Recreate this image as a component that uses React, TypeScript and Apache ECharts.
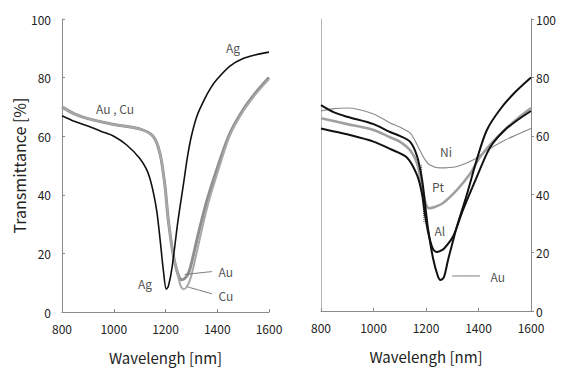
import React, { useEffect, useRef } from "react";
import * as echarts from "echarts";

// ---- Left panel (Ag, Au, Cu) ----
const leftAgX = [800, 850, 900, 950, 1000, 1050, 1100, 1125, 1140, 1155, 1167, 1180, 1192, 1203, 1211, 1225, 1248, 1270, 1285, 1300, 1322, 1350, 1375, 1400, 1450, 1500, 1550, 1600];
const leftAgY = [67, 65, 63.5, 61.7, 60, 57, 52.5, 49, 45.5, 40, 34, 24, 14, 7.8, 8.8, 15, 31, 44, 53, 60, 67, 72.5, 76.5, 79.5, 84, 86.5, 87.8, 88.7];

const leftAuX = [800, 850, 900, 1000, 1100, 1152, 1179, 1198, 1210, 1229, 1248, 1264, 1280, 1294, 1325, 1360, 1411, 1449, 1500, 1550, 1600];
const leftAuY = [70, 67.5, 66, 64, 62.5, 60, 54, 43, 32, 20, 13, 11, 12, 14.5, 26, 38, 52, 61, 69, 75, 80];

const leftCuX = [800, 850, 900, 1000, 1100, 1152, 1179, 1198, 1210, 1229, 1248, 1258, 1270, 1285, 1300, 1330, 1365, 1415, 1450, 1500, 1550, 1600];
const leftCuY = [70, 67.5, 66, 64, 62.5, 60, 54, 43, 32, 20, 12.5, 9, 7.8, 9, 12.5, 24, 37, 51.5, 60.5, 68.5, 74.5, 79.5];

// ---- Right panel (Au, Al, Pt, Ni) ----
const rightAuX = [800, 850, 900, 1000, 1063, 1100, 1139, 1166, 1185, 1196, 1208, 1227, 1245, 1255, 1268, 1284, 1300, 1318, 1356, 1394, 1432, 1482, 1540, 1600];
const rightAuY = [70.5, 68, 66.5, 64, 61.3, 60, 58, 53, 45, 37, 28, 18, 12, 10.6, 11.5, 17.5, 23, 29, 40, 52, 62, 69, 75, 80];

const rightAlX = [800, 850, 900, 1000, 1063, 1128, 1166, 1185, 1196, 1208, 1225, 1240, 1255, 1270, 1303, 1341, 1394, 1432, 1455, 1500, 1550, 1600];
const rightAlY = [62.5, 61.5, 60.5, 58, 55.5, 52.5, 46.5, 40, 33, 27, 21.5, 20.2, 20.6, 21.5, 25.5, 34.6, 46, 54, 57.5, 62, 65.5, 68.5];

const rightPtX = [800, 900, 1000, 1063, 1100, 1140, 1166, 1185, 1200, 1212, 1230, 1265, 1318, 1368, 1406, 1450, 1500, 1550, 1600];
const rightPtY = [66, 64, 62, 59.5, 58, 55, 50.6, 42.5, 36.5, 35.2, 35.5, 37, 41.5, 47, 52.7, 57.5, 62, 66, 69.5];

const rightNiX = [800, 850, 900, 1000, 1063, 1100, 1139, 1160, 1177, 1195, 1215, 1253, 1318, 1379, 1432, 1500, 1550, 1600];
const rightNiY = [68.5, 69.3, 69.5, 67.5, 64.4, 63, 61, 58, 55, 52, 50, 49, 49.5, 51.7, 55, 58.5, 60.5, 62.5];

const rightDotX = [1182, 1187, 1193];
const rightDotY = [50, 40, 30];

// ---- Axes ----
const xTicks = [800, 1000, 1200, 1400, 1600];
const yTicks = [0, 20, 40, 60, 80, 100];

// ---- Annotations ----
const leftLabels = [
  { name: "Ag", x: 1461, y: 90.4, align: "center" },
  { name: "Au , Cu", x: 1005, y: 69.6, align: "center" },
  { name: "Ag", x: 1121, y: 9.6, align: "center" },
  { name: "Au", x: 1405, y: 13.7, align: "left" },
  { name: "Cu", x: 1405, y: 5.6, align: "left" },
];
const leftAuLeaderX = [1274, 1380];
const leftAuLeaderY = [12.8, 13.8];
const leftCuLeaderX = [1284, 1380];
const leftCuLeaderY = [8.6, 6.2];

const rightLabels = [
  { name: "Ni", x: 1276, y: 54.5, align: "center" },
  { name: "Pt", x: 1246, y: 42.5, align: "center" },
  { name: "Al", x: 1253, y: 27.7, align: "center" },
  { name: "Au", x: 1446, y: 11.8, align: "left" },
];
const rightAuLeaderX = [1299, 1406];
const rightAuLeaderY = [12, 12];

const zip = (xs: number[], ys: number[]) => xs.map((x, i) => [x, ys[i]]);

const FONT = "'Noto Sans CJK JP', 'Noto Sans', sans-serif";
const AXIS_COLOR = "#8a8a8a";
const TEXT_COLOR = "#222";

export default function App() {
  const ref = useRef<HTMLDivElement>(null);
  useEffect(() => {
    if (!ref.current) return;
    const chart = echarts.init(ref.current, null, { renderer: "svg" });

    const xAxisBase = (gridIndex: number) => ({
      type: "value",
      gridIndex,
      min: 800,
      max: 1600,
      interval: 200,
      name: "Wavelengh [nm]",
      nameLocation: "middle",
      nameGap: 38,
      nameTextStyle: { fontSize: 15, color: TEXT_COLOR, fontFamily: FONT },
      axisLine: { show: true, lineStyle: { color: AXIS_COLOR, width: 1 } },
      axisTick: { show: true, inside: true, length: 3, lineStyle: { color: AXIS_COLOR } },
      axisLabel: {
        fontSize: 12,
        color: TEXT_COLOR,
        fontFamily: FONT,
        margin: 10,
        customValues: xTicks,
        formatter: (v: number) => String(v),
      },
      splitLine: { show: false },
    });

    const lineSeries = (
      name: string,
      data: number[][],
      idx: number,
      color: string,
      width: number,
      type: string = "solid",
      z = 3
    ) => ({
      type: "line",
      name,
      xAxisIndex: idx,
      yAxisIndex: idx,
      data,
      showSymbol: false,
      symbol: "none",
      smooth: 0.3,
      lineStyle: { color, width, type },
      z,
    });

    const labelSeries = (items: any[], idx: number) => ({
      type: "scatter",
      xAxisIndex: idx,
      yAxisIndex: idx,
      symbolSize: 0,
      data: items.map((it) => ({
        name: it.name,
        value: [it.x, it.y],
        label: { align: it.align },
      })),
      label: {
        show: true,
        position: "inside",
        formatter: "{b}",
        fontSize: 12,
        color: TEXT_COLOR,
        fontFamily: FONT,
        verticalAlign: "middle",
      },
      z: 5,
    });

    chart.setOption({
      animation: false,
      backgroundColor: "#ffffff",
      grid: [
        { left: 62, top: 19, width: 207, height: 293 },
        { left: 321, top: 19, width: 210, height: 292 },
      ],
      xAxis: [xAxisBase(0), xAxisBase(1)],
      yAxis: [
        {
          type: "value",
          gridIndex: 0,
          min: 0,
          max: 100,
          interval: 20,
          name: "Transmittance [%]",
          nameLocation: "middle",
          nameGap: 34,
          nameTextStyle: { fontSize: 16, color: TEXT_COLOR, fontFamily: FONT },
          axisLine: { show: true, lineStyle: { color: AXIS_COLOR, width: 1 } },
          axisTick: { show: true, inside: true, length: 3, lineStyle: { color: AXIS_COLOR } },
          axisLabel: { fontSize: 12, color: TEXT_COLOR, fontFamily: FONT, margin: 11, customValues: yTicks },
          splitLine: { show: false },
        },
        {
          type: "value",
          gridIndex: 1,
          position: "right",
          min: 0,
          max: 100,
          interval: 20,
          axisLine: { show: true, lineStyle: { color: AXIS_COLOR, width: 1 } },
          axisTick: { show: true, inside: false, length: 3, lineStyle: { color: AXIS_COLOR } },
          axisLabel: { fontSize: 12, color: TEXT_COLOR, fontFamily: FONT, margin: 5, customValues: yTicks },
          splitLine: { show: false },
        },
        {
          type: "value",
          gridIndex: 1,
          position: "left",
          min: 0,
          max: 100,
          axisLine: { show: true, lineStyle: { color: "#b5b5b5", width: 1 } },
          axisTick: { show: false },
          axisLabel: { show: false },
          splitLine: { show: false },
        },
      ],
      series: [
        lineSeries("Au", zip(leftAuX, leftAuY), 0, "#8f8f8f", 3),
        lineSeries("Cu", zip(leftCuX, leftCuY), 0, "#a8a8a8", 2),
        lineSeries("Ag", zip(leftAgX, leftAgY), 0, "#111111", 1.6, "solid", 4),
        lineSeries("AuLeader", zip(leftAuLeaderX, leftAuLeaderY), 0, "#777", 1),
        lineSeries("CuLeader", zip(leftCuLeaderX, leftCuLeaderY), 0, "#777", 1),
        labelSeries(leftLabels, 0),

        lineSeries("Ni", zip(rightNiX, rightNiY), 1, "#8a8a8a", 1.1),
        lineSeries("Pt", zip(rightPtX, rightPtY), 1, "#a0a0a0", 2.6),
        lineSeries("Al", zip(rightAlX, rightAlY), 1, "#111111", 2, "solid", 4),
        lineSeries("Au2", zip(rightAuX, rightAuY), 1, "#111111", 2, "solid", 4),
        lineSeries("Dot", zip(rightDotX, rightDotY), 1, "#444", 1, "dotted"),
        lineSeries("AuLeader2", zip(rightAuLeaderX, rightAuLeaderY), 1, "#777", 1),
        labelSeries(rightLabels, 1),
      ],
    });
    return () => chart.dispose();
  }, []);

  return (
    <div
      ref={ref}
      style={{ position: "fixed", left: 0, top: 0, width: 574, height: 376, background: "#fff" }}
    />
  );
}
